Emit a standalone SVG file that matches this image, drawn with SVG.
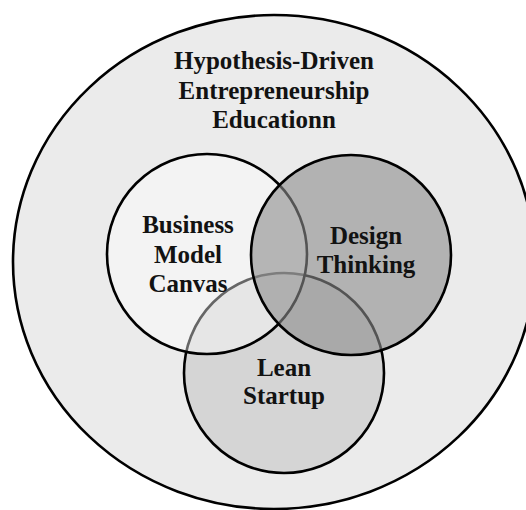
<svg xmlns="http://www.w3.org/2000/svg" width="526" height="510" viewBox="0 0 526 510">
  <style>
    .ring { stroke: #000; stroke-width: 2.6; }
    .label { font-family: "Liberation Serif", "Times New Roman", serif; font-weight: bold; font-size: 25px; fill: #121212; text-anchor: middle; }
  </style>
  <rect width="526" height="510" fill="#ffffff"/>

  <!-- outer frame: the overall programme -->
  <g id="hypothesis-driven-education">
    <ellipse class="ring" cx="274" cy="262" rx="261" ry="247" fill="#ebebeb"/>
    <text class="label" x="274" y="69">Hypothesis-Driven</text>
    <text class="label" x="274" y="98.5">Entrepreneurship</text>
    <text class="label" x="274" y="127.5">Educationn</text>
  </g>

  <!-- Lean Startup sits lowest; the other two circles are translucent over it -->
  <g id="lean-startup">
    <circle class="ring" cx="284" cy="373" r="100" fill="#d5d5d5"/>
  </g>

  <g id="business-model-canvas">
    <circle class="ring" cx="207" cy="254" r="100" fill="#ffffff" fill-opacity="0.4"/>
  </g>

  <g id="design-thinking">
    <circle class="ring" cx="351" cy="255" r="100" fill="#8c8c8c" fill-opacity="0.6"/>
  </g>

  <!-- circle labels drawn last so no fill covers them -->
  <g id="labels">
    <text class="label" x="188" y="233">Business</text>
    <text class="label" x="188" y="263">Model</text>
    <text class="label" x="188" y="292">Canvas</text>
    <text class="label" x="366" y="244">Design</text>
    <text class="label" x="366" y="273">Thinking</text>
    <text class="label" x="284" y="376">Lean</text>
    <text class="label" x="284" y="404">Startup</text>
  </g>
</svg>
